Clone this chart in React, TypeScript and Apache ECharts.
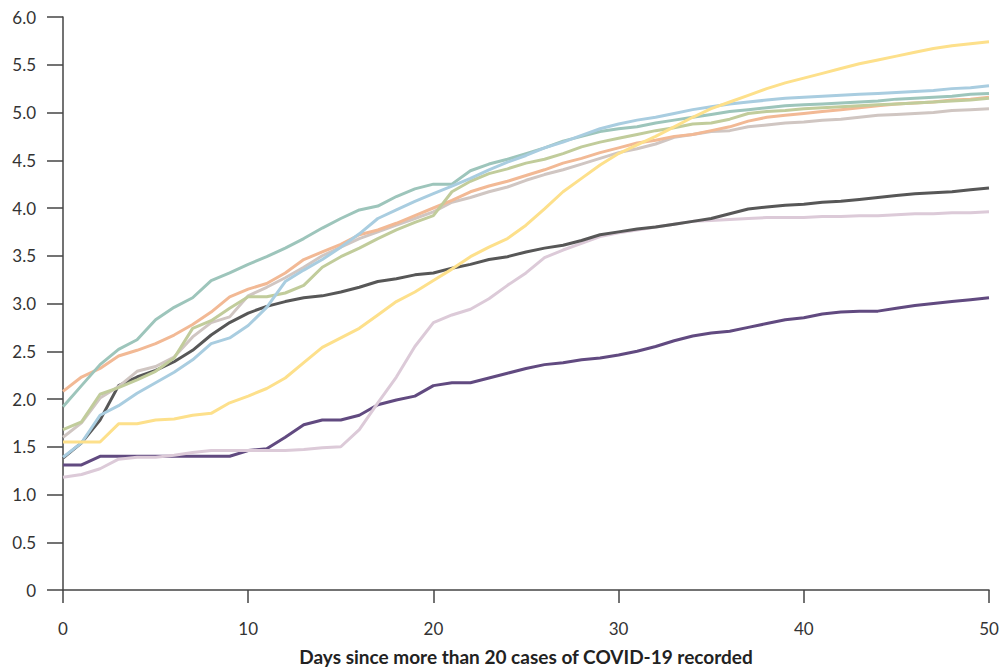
import React, { useEffect, useRef } from "react";
import * as echarts from "echarts";

const days = Array.from({ length: 51 }, (_, i) => i);

const teal = [1.92, 2.14, 2.36, 2.52, 2.62, 2.83, 2.96, 3.06, 3.24, 3.32, 3.41, 3.49, 3.58, 3.68, 3.79, 3.89, 3.98, 4.02, 4.12, 4.2, 4.25, 4.25, 4.39, 4.46, 4.51, 4.57, 4.63, 4.7, 4.75, 4.8, 4.83, 4.85, 4.89, 4.92, 4.95, 4.98, 5.01, 5.03, 5.05, 5.07, 5.08, 5.09, 5.1, 5.11, 5.12, 5.14, 5.15, 5.16, 5.17, 5.19, 5.2];
const orange = [2.08, 2.23, 2.32, 2.45, 2.51, 2.58, 2.67, 2.78, 2.91, 3.07, 3.15, 3.21, 3.32, 3.46, 3.54, 3.62, 3.72, 3.77, 3.84, 3.92, 4.0, 4.08, 4.17, 4.23, 4.28, 4.34, 4.4, 4.47, 4.52, 4.58, 4.63, 4.68, 4.71, 4.75, 4.77, 4.81, 4.85, 4.91, 4.95, 4.97, 4.99, 5.01, 5.03, 5.05, 5.07, 5.09, 5.1, 5.11, 5.13, 5.14, 5.16];
const blue = [1.39, 1.54, 1.83, 1.93, 2.06, 2.17, 2.28, 2.41, 2.58, 2.64, 2.77, 2.96, 3.23, 3.35, 3.46, 3.59, 3.73, 3.89, 3.98, 4.07, 4.15, 4.23, 4.31, 4.4, 4.48, 4.55, 4.63, 4.69, 4.76, 4.83, 4.88, 4.92, 4.95, 4.99, 5.03, 5.06, 5.09, 5.11, 5.13, 5.15, 5.16, 5.17, 5.18, 5.19, 5.2, 5.21, 5.22, 5.23, 5.25, 5.26, 5.28];
const olive = [1.68, 1.76, 2.05, 2.12, 2.2, 2.29, 2.43, 2.74, 2.82, 2.95, 3.07, 3.07, 3.11, 3.19, 3.38, 3.49, 3.58, 3.68, 3.77, 3.85, 3.92, 4.17, 4.28, 4.36, 4.41, 4.47, 4.51, 4.57, 4.64, 4.69, 4.73, 4.77, 4.81, 4.84, 4.88, 4.89, 4.93, 4.99, 5.01, 5.02, 5.04, 5.05, 5.06, 5.07, 5.08, 5.09, 5.1, 5.11, 5.12, 5.13, 5.15];
const beige = [1.6, 1.75, 2.01, 2.13, 2.29, 2.34, 2.44, 2.65, 2.8, 2.86, 3.08, 3.17, 3.27, 3.38, 3.5, 3.59, 3.68, 3.75, 3.82, 3.89, 3.96, 4.06, 4.11, 4.17, 4.22, 4.29, 4.35, 4.4, 4.46, 4.52, 4.58, 4.62, 4.67, 4.74, 4.77, 4.8, 4.81, 4.85, 4.87, 4.89, 4.9, 4.92, 4.93, 4.95, 4.97, 4.98, 4.99, 5.0, 5.02, 5.03, 5.04];
const darkGrey = [1.38, 1.54, 1.78, 2.14, 2.23, 2.3, 2.39, 2.51, 2.67, 2.8, 2.9, 2.97, 3.02, 3.06, 3.08, 3.12, 3.17, 3.23, 3.26, 3.3, 3.32, 3.37, 3.41, 3.46, 3.49, 3.54, 3.58, 3.61, 3.66, 3.72, 3.75, 3.78, 3.8, 3.83, 3.86, 3.89, 3.94, 3.99, 4.01, 4.03, 4.04, 4.06, 4.07, 4.09, 4.11, 4.13, 4.15, 4.16, 4.17, 4.19, 4.21];
const yellow = [1.55, 1.55, 1.55, 1.74, 1.74, 1.78, 1.79, 1.83, 1.85, 1.96, 2.03, 2.11, 2.22, 2.38, 2.54, 2.64, 2.74, 2.88, 3.02, 3.12, 3.24, 3.36, 3.49, 3.59, 3.68, 3.82, 3.99, 4.17, 4.31, 4.45, 4.57, 4.66, 4.75, 4.85, 4.95, 5.04, 5.11, 5.18, 5.25, 5.31, 5.36, 5.41, 5.46, 5.51, 5.55, 5.59, 5.63, 5.67, 5.7, 5.72, 5.74];
const pink = [1.18, 1.21, 1.27, 1.37, 1.39, 1.39, 1.41, 1.44, 1.46, 1.46, 1.46, 1.46, 1.46, 1.47, 1.49, 1.5, 1.68, 1.96, 2.23, 2.55, 2.8, 2.88, 2.94, 3.05, 3.19, 3.32, 3.48, 3.56, 3.63, 3.7, 3.74, 3.77, 3.8, 3.83, 3.86, 3.87, 3.88, 3.89, 3.9, 3.9, 3.9, 3.91, 3.91, 3.92, 3.92, 3.93, 3.94, 3.94, 3.95, 3.95, 3.96];
const purple = [1.31, 1.31, 1.4, 1.4, 1.4, 1.4, 1.4, 1.4, 1.4, 1.4, 1.46, 1.48, 1.6, 1.73, 1.78, 1.78, 1.83, 1.94, 1.99, 2.03, 2.14, 2.17, 2.17, 2.22, 2.27, 2.32, 2.36, 2.38, 2.41, 2.43, 2.46, 2.5, 2.55, 2.61, 2.66, 2.69, 2.71, 2.75, 2.79, 2.83, 2.85, 2.89, 2.91, 2.92, 2.92, 2.95, 2.98, 3.0, 3.02, 3.04, 3.06];

const seriesList = [
  { name: "purple", data: purple, color: "#614a80" },
  { name: "pink", data: pink, color: "#dccad8" },
  { name: "darkGrey", data: darkGrey, color: "#575757" },
  { name: "beige", data: beige, color: "#d0c6c2" },
  { name: "orange", data: orange, color: "#f2b995" },
  { name: "olive", data: olive, color: "#c1cc9b" },
  { name: "teal", data: teal, color: "#9dc5bb" },
  { name: "blue", data: blue, color: "#a9cde0" },
  { name: "yellow", data: yellow, color: "#fde08b" },
];

const xTitle = "Days since more than 20 cases of COVID-19 recorded";

export default function App() {
  const ref = useRef<HTMLDivElement>(null);
  useEffect(() => {
    if (!ref.current) return;
    const chart = echarts.init(ref.current, null, { renderer: "svg" });
    const font = "Lato, 'Open Sans', sans-serif";
    chart.setOption({
      animation: false,
      grid: {
        left: 63,
        right: 16,
        top: 17,
        bottom: 78,
        containLabel: false,
        outerBoundsMode: "none",
      },
      xAxis: {
        type: "value",
        min: 0,
        max: 50,
        interval: 10,
        name: xTitle,
        nameLocation: "middle",
        nameGap: 57,
        nameTextStyle: { fontFamily: font, fontSize: 19, fontWeight: "bold", color: "#222" },
        axisLine: { show: true, lineStyle: { color: "#444", width: 1.5 } },
        axisTick: { show: true, length: 13, lineStyle: { color: "#444", width: 1.5 } },
        axisLabel: { fontFamily: font, fontSize: 17, color: "#333", margin: 30 },
        splitLine: { show: false },
      },
      yAxis: {
        type: "value",
        min: 0,
        max: 6,
        interval: 0.5,
        axisLine: { show: true, lineStyle: { color: "#444", width: 1.5 } },
        axisTick: { show: true, length: 16, lineStyle: { color: "#444", width: 1.5 } },
        axisLabel: {
          fontFamily: font,
          fontSize: 17,
          color: "#333",
          margin: 27,
          formatter: (v: number) => (v === 0 ? "0" : v.toFixed(1)),
        },
        splitLine: { show: false },
      },
      series: seriesList.map((s) => ({
        type: "line",
        name: s.name,
        data: s.data.map((v, i) => [days[i], v]),
        showSymbol: false,
        symbol: "none",
        lineStyle: { color: s.color, width: 3 },
        itemStyle: { color: s.color },
      })),
    });
    return () => chart.dispose();
  }, []);
  return (
    <div
      ref={ref}
      style={{ position: "absolute", left: 0, top: 0, width: 1005, height: 668 }}
    />
  );
}
